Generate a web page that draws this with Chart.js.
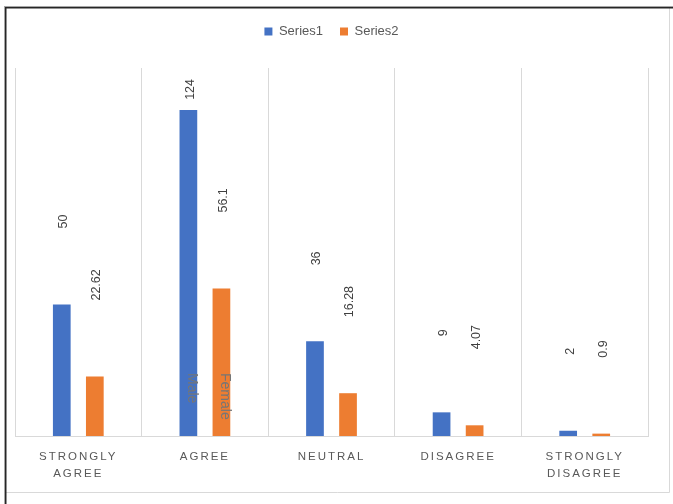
<!DOCTYPE html>
<html>
<head>
<meta charset="utf-8">
<script src="https://cdn.jsdelivr.net/npm/chart.js@4/dist/chart.umd.min.js"></script>
<style>
  html, body { margin: 0; padding: 0; background: #fff; overflow: hidden; }
  #c { display: block; }
</style>
</head>
<body>
<canvas id="c" width="673" height="504" style="width:673px;height:504px"></canvas>
<script>
// Response categories (two-line labels where the label wraps)
const categories = [['STRONGLY', 'AGREE'], 'AGREE', 'NEUTRAL', 'DISAGREE', ['STRONGLY', 'DISAGREE']];
const seriesNames = ['Series1', 'Series2'];
const series1 = [50, 124, 36, 9, 2];
const series2 = [22.62, 56.1, 16.28, 4.07, 0.9];
// Group captions written inside the AGREE bars
const groupNames = ['Male', 'Female'];
const groupNameCategory = 1;

const BLUE = '#4472C4';
const ORANGE = '#ED7D31';
const FONT = '"Liberation Sans", Arial, sans-serif';

// Give the legend a fixed band height above the plot
const legendBand = {
  id: 'legendBand',
  beforeUpdate(chart) {
    const lg = chart.legend;
    if (lg && !lg._bandPatched) {
      const fit = lg.fit;
      lg.fit = function () { fit.call(this); this.height = 60; };
      lg._bandPatched = true;
    }
  }
};

// Rotated value labels above each bar, plus the group captions
const valueLabels = {
  id: 'valueLabels',
  afterDatasetsDraw(chart) {
    const ctx = chart.ctx;
    const area = chart.chartArea;
    ctx.save();
    ctx.letterSpacing = '0px';
    ctx.font = '12.5px ' + FONT;
    ctx.fillStyle = '#404040';
    ctx.textAlign = 'left';
    ctx.textBaseline = 'middle';
    chart.data.datasets.forEach((ds, i) => {
      const meta = chart.getDatasetMeta(i);
      meta.data.forEach((bar, j) => {
        const txt = String(ds.data[j]);
        const w = ctx.measureText(txt).width;
        const start = Math.max(bar.y - 76, area.top + 11 + w);
        ctx.save();
        ctx.translate(bar.x + 2, start);
        ctx.rotate(-Math.PI / 2);
        ctx.fillText(txt, 0, 0);
        ctx.restore();
      });
    });

    ctx.font = '14px ' + FONT;
    ctx.fillStyle = '#767676';
    groupNames.forEach((name, i) => {
      const bar = chart.getDatasetMeta(i).data[groupNameCategory];
      ctx.save();
      ctx.translate(bar.x + 3.5, area.bottom - 63);
      ctx.rotate(Math.PI / 2);
      ctx.fillText(name, 0, 0);
      ctx.restore();
    });
    ctx.restore();
    // spaced capitals for the category axis, drawn next
    ctx.letterSpacing = '2px';
  },
  afterDraw(chart) {
    const ctx = chart.ctx;
    ctx.letterSpacing = '0px';
    ctx.save();
    // light chart border
    ctx.strokeStyle = '#d9d9d9';
    ctx.lineWidth = 1;
    ctx.beginPath();
    ctx.moveTo(669.5, 7);
    ctx.lineTo(669.5, 492.5);
    ctx.lineTo(5, 492.5);
    ctx.stroke();
    // dark outer frame on top and left
    ctx.fillStyle = '#a6a6a6';
    ctx.fillRect(4, 6, 669, 1);
    ctx.fillRect(4, 6, 1, 498);
    ctx.fillStyle = '#262626';
    ctx.fillRect(5, 7, 668, 1.5);
    ctx.fillRect(5, 7, 1.5, 497);
    ctx.restore();
  }
};

const whiteBg = {
  id: 'whiteBg',
  beforeDraw(chart) {
    const ctx = chart.ctx;
    ctx.save();
    ctx.fillStyle = '#ffffff';
    ctx.fillRect(0, 0, chart.width, chart.height);
    ctx.restore();
  }
};

new Chart(document.getElementById('c'), {
  type: 'bar',
  data: {
    labels: categories,
    datasets: [
      { label: seriesNames[0], data: series1, backgroundColor: BLUE, borderWidth: 0 },
      { label: seriesNames[1], data: series2, backgroundColor: ORANGE, borderWidth: 0 }
    ]
  },
  options: {
    responsive: false,
    maintainAspectRatio: false,
    devicePixelRatio: 1,
    animation: false,
    layout: { padding: { left: 15, right: 25, top: 8, bottom: 0 } },
    datasets: {
      bar: { categoryPercentage: 0.522, barPercentage: 0.536 }
    },
    plugins: {
      legend: {
        position: 'top',
        labels: {
          boxWidth: 8,
          boxHeight: 8,
          padding: 17,
          color: '#595959',
          font: { family: FONT, size: 13 }
        }
      },
      tooltip: { enabled: false }
    },
    scales: {
      x: {
        offset: true,
        grid: { color: '#d9d9d9', lineWidth: 1, drawTicks: false, offset: true },
        border: { color: '#d9d9d9', width: 1, z: 1 },
        ticks: {
          z: 1,
          padding: 13,
          autoSkip: false,
          maxRotation: 0,
          color: '#595959',
          font: { family: FONT, size: 11.5, lineHeight: 1.42 }
        },
        afterFit(scale) { scale.height = 68; }
      },
      y: {
        display: false,
        min: 0,
        max: 140
      }
    }
  },
  plugins: [whiteBg, legendBand, valueLabels]
});
</script>
</body>
</html>
